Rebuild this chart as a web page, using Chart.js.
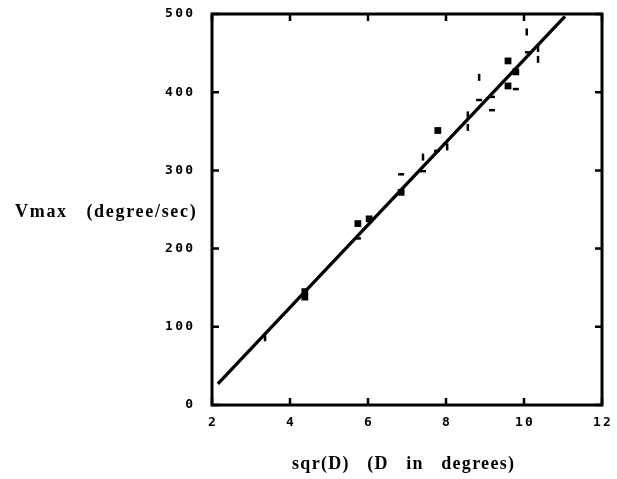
<!DOCTYPE html>
<html>
<head>
<meta charset="utf-8">
<script src="https://cdn.jsdelivr.net/npm/chart.js@4"></script>
<style>
  html, body { margin: 0; padding: 0; background: #fff; }
  #wrap { width: 617px; height: 479px; position: relative; }
</style>
</head>
<body>
<div id="wrap"><canvas id="vmaxChart" width="617" height="479"></canvas></div>
<script>
// sqr(D) vs Vmax readings, grouped by the marker shape used in the figure
const squareX = [4.38, 4.38, 5.74, 6.03, 6.85, 7.79, 9.59, 9.79, 9.59];
const squareY = [145, 138, 232, 238, 272, 351, 440, 426, 408];

const tickX = [3.36, 7.41, 8.03, 8.56, 8.56, 8.85, 10.07, 10.36, 10.36];
const tickY = [86, 317, 330, 371, 355, 419, 477, 456, 442];

const dashX = [5.74, 6.85, 7.41, 7.77, 8.85, 9.18, 9.18, 9.79, 10.1];
const dashY = [213, 295, 299, 325, 390, 377, 394, 404, 451];

// fitted line end points
const fitX = [2.15, 11.05];
const fitY = [27, 497];

const xTicks = [2, 4, 6, 8, 10, 12];
const yTicks = [0, 100, 200, 300, 400, 500];

const yTitle = 'Vmax   (degree/sec)';
const xTitle = 'sqr(D)   (D   in   degrees)';

const toPoints = (xs, ys) => xs.map((x, i) => ({ x: x, y: ys[i] }));

// text with letter spacing, aligned by hand so the trailing gap is not counted
function spacedText(ctx, text, x, y, spacing, align) {
    ctx.letterSpacing = '0px';
    const w = ctx.measureText(text).width + spacing * (text.length - 1);
    let start = x;
    if (align === 'center') start = x - w / 2;
    if (align === 'right') start = x - w;
    ctx.letterSpacing = spacing + 'px';
    ctx.textAlign = 'left';
    ctx.fillText(text, start, y);
    ctx.letterSpacing = '0px';
}

// frame, inward ticks on all four sides, tick labels and axis titles
const framePlugin = {
    id: 'frame',
    afterDraw(chart) {
        const ctx = chart.ctx;
        const a = chart.chartArea;
        const xs = chart.scales.x, ys = chart.scales.y;
        ctx.save();
        ctx.strokeStyle = '#000';
        ctx.lineWidth = 3;
        ctx.strokeRect(a.left, a.top, a.right - a.left, a.bottom - a.top);
        ctx.lineWidth = 2.5;
        const len = 7;
        ctx.fillStyle = '#000';
        ctx.font = 'bold 13px "DejaVu Sans Mono", monospace';
        ctx.textBaseline = 'middle';
        xTicks.forEach(v => {
            const px = xs.getPixelForValue(v);
            ctx.beginPath();
            ctx.moveTo(px, a.bottom); ctx.lineTo(px, a.bottom - len);
            ctx.moveTo(px, a.top); ctx.lineTo(px, a.top + len);
            ctx.stroke();
            spacedText(ctx, String(v), px, a.bottom + 18, 2.2, 'center');
        });
        yTicks.forEach(v => {
            const py = ys.getPixelForValue(v);
            ctx.beginPath();
            ctx.moveTo(a.left, py); ctx.lineTo(a.left + len, py);
            ctx.moveTo(a.right, py); ctx.lineTo(a.right - len, py);
            ctx.stroke();
            spacedText(ctx, String(v), a.left - 19, py, 2.2, 'right');
        });
        ctx.font = 'bold 18px "Liberation Serif", "Times New Roman", serif';
        spacedText(ctx, yTitle, 15, 212, 1.7, 'left');
        spacedText(ctx, xTitle, 403, 464, 1.3, 'center');
        ctx.restore();
    }
};

new Chart(document.getElementById('vmaxChart').getContext('2d'), {
    type: 'scatter',
    data: {
        datasets: [
            {
                data: toPoints(squareX, squareY),
                pointStyle: 'rect',
                pointRadius: 4.8,
                backgroundColor: '#000',
                borderColor: '#000',
                borderWidth: 0
            },
            {
                data: toPoints(tickX, tickY),
                pointStyle: 'line',
                rotation: 90,
                pointRadius: 3.5,
                borderColor: '#000',
                borderWidth: 2.5
            },
            {
                data: toPoints(dashX, dashY),
                pointStyle: 'line',
                pointRadius: 3,
                borderColor: '#000',
                borderWidth: 2.5
            },
            {
                type: 'line',
                data: toPoints(fitX, fitY),
                borderColor: '#000',
                borderWidth: 3.3,
                pointRadius: 0,
                fill: false
            }
        ]
    },
    options: {
        responsive: false,
        animation: false,
        events: [],
        layout: { padding: { left: 0, right: 15, top: 14, bottom: 0 } },
        plugins: {
            legend: { display: false },
            tooltip: { enabled: false }
        },
        scales: {
            x: {
                type: 'linear',
                min: 2, max: 12,
                afterFit: s => { s.height = 74; },
                grid: { display: false, drawTicks: false },
                border: { display: false },
                ticks: { display: false }
            },
            y: {
                type: 'linear',
                min: 0, max: 500,
                afterFit: s => { s.width = 212; },
                grid: { display: false, drawTicks: false },
                border: { display: false },
                ticks: { display: false }
            }
        }
    },
    plugins: [framePlugin]
});
</script>
</body>
</html>
